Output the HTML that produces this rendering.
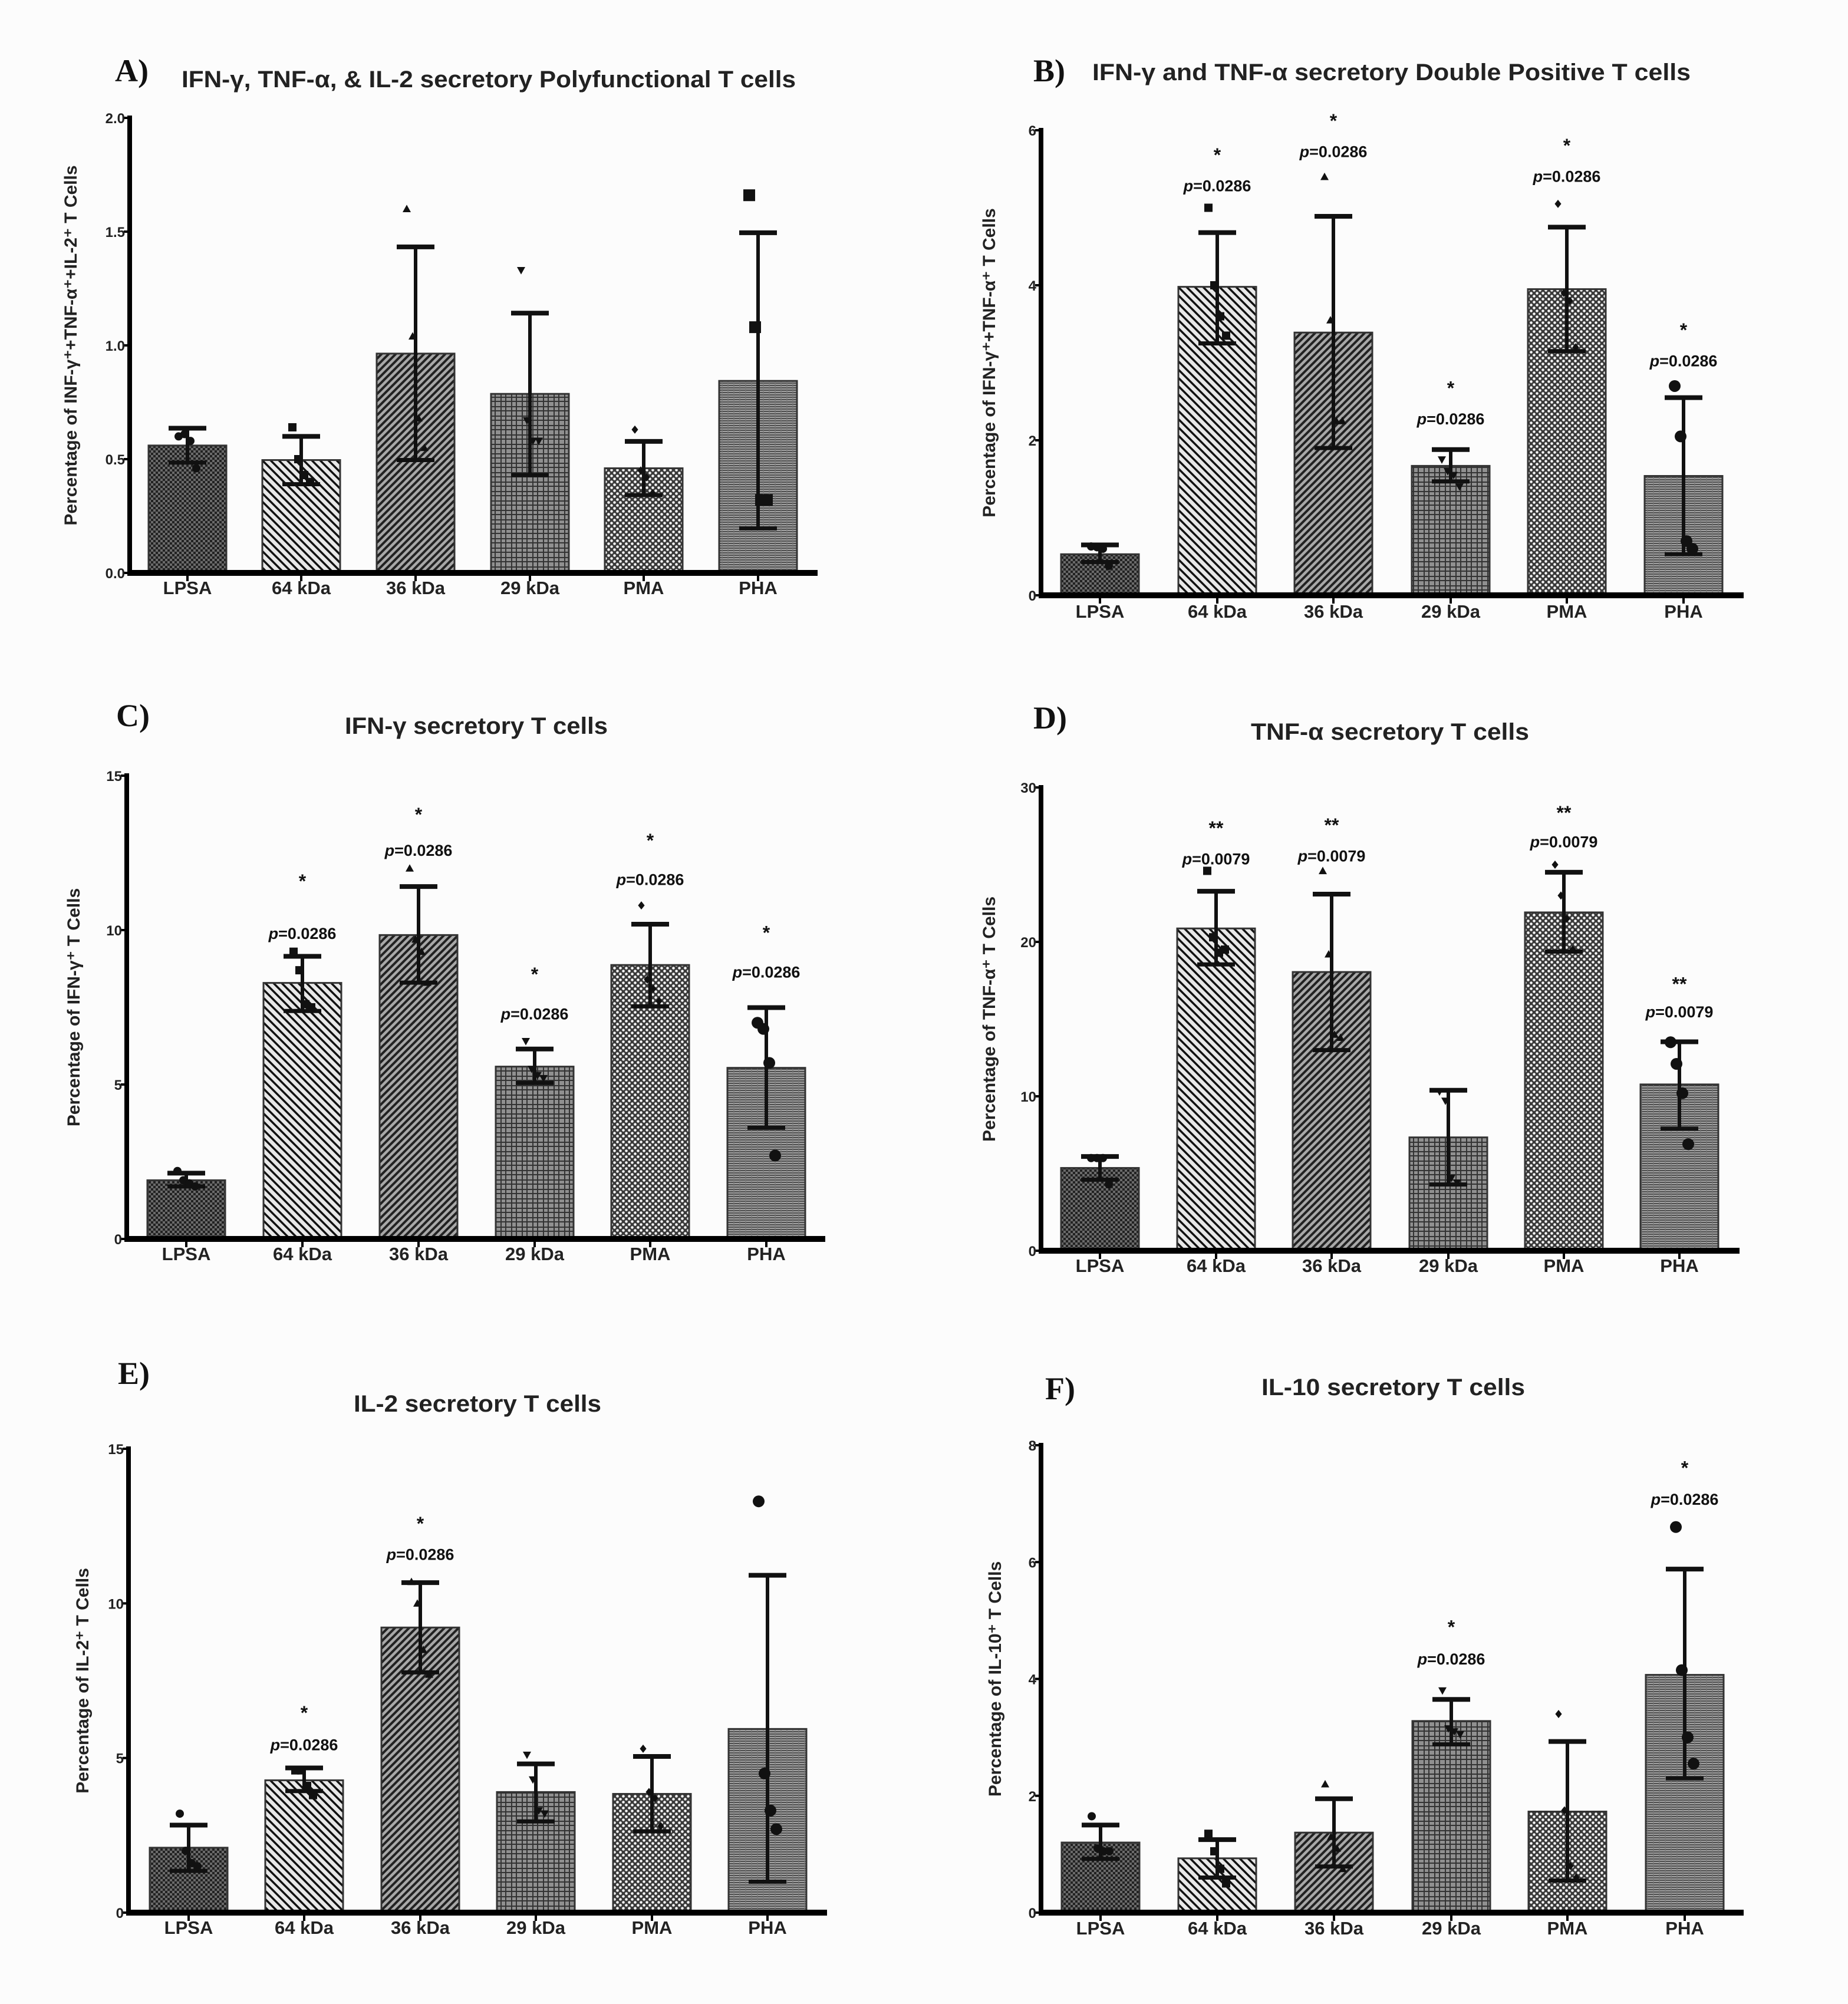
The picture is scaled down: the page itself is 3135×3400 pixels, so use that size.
<!DOCTYPE html>
<html><head><meta charset="utf-8"><style>
html,body{margin:0;padding:0;background:#fcfcfc}
svg{display:block;font-family:"Liberation Sans",Arial,sans-serif}
</style></head><body>
<svg id="fig" width="3135" height="3400" viewBox="0 0 3135 3400" xmlns="http://www.w3.org/2000/svg">
<defs>
<pattern id="pLPSA" width="8" height="8" patternUnits="userSpaceOnUse"><rect width="8" height="8" fill="#6a6a6a"/><rect width="4" height="4" fill="#222"/><rect x="4" y="4" width="4" height="4" fill="#222"/></pattern>
<pattern id="p64" width="14" height="14" patternUnits="userSpaceOnUse"><rect width="14" height="14" fill="#e8e8e8"/><path d="M0,0 L14,14 M-7,7 L7,21 M7,-7 L21,7" stroke="#111" stroke-width="3.5"/></pattern>
<pattern id="p36" width="12" height="12" patternUnits="userSpaceOnUse"><rect width="12" height="12" fill="#a8a8a8"/><path d="M0,12 L12,0 M-6,6 L6,-6 M6,18 L18,6" stroke="#222" stroke-width="4"/></pattern>
<pattern id="p29" width="18" height="16" patternUnits="userSpaceOnUse"><rect width="18" height="16" fill="#909090"/><path d="M0,2 H18 M0,9 H18 M4,0 V16 M12,0 V16" stroke="#333" stroke-width="2"/></pattern>
<pattern id="pPMA" width="10" height="10" patternUnits="userSpaceOnUse"><rect width="10" height="10" fill="#3a3a3a"/><circle cx="2.5" cy="2.5" r="2.3" fill="#f4f4f4"/><circle cx="7.5" cy="7.5" r="2.3" fill="#f4f4f4"/></pattern>
<pattern id="pPHA" width="10" height="8" patternUnits="userSpaceOnUse"><rect width="10" height="8" fill="#a2a2a2"/><path d="M0,2 H10 M0,6 H10" stroke="#333" stroke-width="1.6"/><path d="M5,0 V8" stroke="#777" stroke-width="1.2"/></pattern>
</defs>
</svg>
<script>
const categories = ["LPSA","64 kDa","36 kDa","29 kDa","PMA","PHA"];
// Panel A
const aMeans = [0.56,0.496,0.964,0.787,0.46,0.844];
const aErrHi = [0.636,0.60,1.433,1.142,0.578,1.495];
const aErrLo = [0.485,0.39,0.496,0.43,0.342,0.196];
const aPoints = [[0.60,0.61,0.58,0.46],[0.64,0.50,0.43,0.40],[1.60,1.04,0.68,0.55],[1.33,0.67,0.58,0.58],[0.63,0.45,0.42,0.35],[1.66,1.08,0.32,0.32]];
const aTicks = ["0.0","0.5","1.0","1.5","2.0"];
const aStars = [null,null,null,null,null,null];
const aPvals = [null,null,null,null,null,null];
// Panel B
const bMeans = [0.53,3.98,3.39,1.67,3.95,1.54];
const bErrHi = [0.65,4.68,4.89,1.88,4.75,2.55];
const bErrLo = [0.43,3.25,1.90,1.47,3.15,0.53];
const bPoints = [[0.63,0.62,0.60,0.38],[5.0,4.0,3.6,3.35],[5.4,3.55,2.25,2.25],[1.75,1.6,1.55,1.4],[5.05,3.9,3.8,3.2],[2.7,2.05,0.7,0.6]];
const bTicks = ["0","2","4","6"];
const bStars = [null,"*","*","*","*","*"];
const bPvals = [null,"0.0286","0.0286","0.0286","0.0286","0.0286"];
const bStarY = [null,5.69,6.13,2.68,5.81,3.43];
const bPY = [null,5.29,5.73,2.28,5.41,3.03];
// Panel C
const cMeans = [1.9,8.29,9.84,5.58,8.87,5.54];
const cErrHi = [2.13,9.15,11.41,6.15,10.19,7.49];
const cErrLo = [1.7,7.38,8.3,5.05,7.53,3.6];
const cPoints = [[2.2,1.9,1.8,1.7],[9.3,8.7,7.6,7.5],[12.0,9.7,9.3,8.3],[6.4,5.5,5.3,5.2],[10.8,8.4,8.1,7.7],[7.0,6.8,5.7,2.7]];
const cTicks = ["0","5","10","15"];
const cStars = [null,"*","*","*","*","*"];
const cPvals = [null,"0.0286","0.0286","0.0286","0.0286","0.0286"];
const cStarY = [null,11.6,13.76,8.59,12.92,9.93];
const cPY = [null,9.9,12.6,7.3,11.65,8.65];
// Panel D
const dMeans = [5.36,20.87,18.05,7.34,21.91,10.77];
const dErrHi = [6.1,23.28,23.09,10.39,24.51,13.53];
const dErrLo = [4.6,18.54,12.99,4.29,19.37,7.9];
const dPoints = [[6.0,6.0,6.0,4.3],[24.6,20.3,19.3,19.5],[24.6,19.2,14.0,13.8],[10.3,9.7,4.7,4.4],[25.0,23.0,21.5,19.5],[13.5,12.1,10.2,6.9]];
const dTicks = ["0","10","20","30"];
const dStars = [null,"**","**",null,"**","**"];
const dPvals = [null,"0.0079","0.0079",null,"0.0079","0.0079"];
const dStarY = [null,27.4,27.6,null,28.4,17.3];
const dPY = [null,25.4,25.6,null,26.5,15.5];
// Panel E
const eMeans = [2.1,4.28,9.22,3.9,3.84,5.94];
const eErrHi = [2.83,4.68,10.67,4.81,5.05,10.91];
const eErrLo = [1.35,3.93,7.77,2.95,2.63,1.0];
const ePoints = [[3.2,2.0,1.6,1.5],[4.6,4.6,4.1,3.8],[10.7,10.0,8.5,7.7],[5.1,4.3,3.3,3.2],[5.3,3.9,3.7,2.8],[13.3,4.5,3.3,2.7]];
const eTicks = ["0","5","10","15"];
const eStars = [null,"*","*",null,null,null];
const ePvals = [null,"0.0286","0.0286",null,null,null];
const eStarY = [null,6.48,12.6,null,null,null];
const ePY = [null,5.44,11.6,null,null,null];
// Panel F
const fMeans = [1.2,0.93,1.37,3.28,1.73,4.07];
const fErrHi = [1.5,1.25,1.95,3.65,2.93,5.88];
const fErrLo = [0.92,0.6,0.79,2.88,0.55,2.3];
const fPoints = [[1.65,1.1,1.05,1.05],[1.35,1.05,0.75,0.5],[2.2,1.3,1.1,0.75],[3.8,3.15,3.1,3.05],[3.4,1.75,0.8,0.6],[6.6,4.15,3.0,2.55]];
const fTicks = ["0","2","4","6","8"];
const fStars = [null,null,null,"*",null,"*"];
const fPvals = [null,null,null,"0.0286",null,"0.0286"];
const fStarY = [null,null,null,4.9,null,7.62];
const fPY = [null,null,null,4.35,null,7.08];

const NS="http://www.w3.org/2000/svg";
const svg=document.getElementById('fig');
function mk(tag,attrs,parent){const e=document.createElementNS(NS,tag);for(const k in attrs)e.setAttribute(k,attrs[k]);(parent||svg).appendChild(e);return e;}
const fills=["url(#pLPSA)","url(#p64)","url(#p36)","url(#p29)","url(#pPMA)","url(#pPHA)"];
const markers=["circle","square","up","down","diamond","circle"];

const panels=[
 {id:"a",letter:"A)",lx:195,ly:138,title:"IFN-γ, TNF-α, & IL-2 secretory Polyfunctional T cells",tx:308,ty:148,tw:1042,
  ytitle:"Percentage of INF-γ⁺+TNF-α⁺+IL-2⁺ T Cells",ytx:130,yax:220,xend:1387,y0:972,ytop:200,max:2.0,
  centers:[318,511,705,899,1092,1286],means:aMeans,hi:aErrHi,lo:aErrLo,pts:aPoints,ticks:aTicks,stars:aStars,pv:aPvals,sy:[],py:[],lab:1008,mk:["circle","square","up","down","diamond","square"]},
 {id:"b",letter:"B)",lx:1753,ly:138,title:"IFN-γ and TNF-α  secretory Double Positive T cells",tx:1853,ty:136,tw:1015,
  ytitle:"Percentage of IFN-γ⁺+TNF-α⁺ T Cells",ytx:1688,yax:1766,xend:2958,y0:1010,ytop:221,max:6,
  centers:[1866,2065,2262,2461,2658,2856],means:bMeans,hi:bErrHi,lo:bErrLo,pts:bPoints,ticks:bTicks,stars:bStars,pv:bPvals,sy:bStarY,py:bPY,lab:1048},
 {id:"c",letter:"C)",lx:197,ly:1232,title:"IFN-γ secretory T cells",tx:585,ty:1245,tw:446,
  ytitle:"Percentage of IFN-γ⁺ T Cells",ytx:135,yax:215,xend:1400,y0:2102,ytop:1316,max:15,
  centers:[316,513,710,907,1103,1300],means:cMeans,hi:cErrHi,lo:cErrLo,pts:cPoints,ticks:cTicks,stars:cStars,pv:cPvals,sy:cStarY,py:cPY,lab:2138},
 {id:"d",letter:"D)",lx:1753,ly:1236,title:"TNF-α secretory T cells",tx:2122,ty:1255,tw:472,
  ytitle:"Percentage of TNF-α⁺ T Cells",ytx:1688,yax:1766,xend:2951,y0:2122,ytop:1336,max:30,
  centers:[1866,2063,2259,2457,2653,2849],means:dMeans,hi:dErrHi,lo:dErrLo,pts:dPoints,ticks:dTicks,stars:dStars,pv:dPvals,sy:dStarY,py:dPY,lab:2158},
 {id:"e",letter:"E)",lx:200,ly:2348,title:"IL-2 secretory T cells",tx:600,ty:2395,tw:420,
  ytitle:"Percentage of IL-2⁺ T Cells",ytx:150,yax:218,xend:1403,y0:3245,ytop:2458,max:15,
  centers:[320,516,713,909,1106,1302],means:eMeans,hi:eErrHi,lo:eErrLo,pts:ePoints,ticks:eTicks,stars:eStars,pv:ePvals,sy:eStarY,py:ePY,lab:3281},
 {id:"f",letter:"F)",lx:1773,ly:2374,title:"IL-10 secretory T cells",tx:2140,ty:2367,tw:447,
  ytitle:"Percentage of IL-10⁺ T Cells",ytx:1698,yax:1766,xend:2958,y0:3245,ytop:2452,max:8,
  centers:[1867,2065,2263,2462,2659,2858],means:fMeans,hi:fErrHi,lo:fErrLo,pts:fPoints,ticks:fTicks,stars:fStars,pv:fPvals,sy:fStarY,py:fPY,lab:3282}
];

function drawMarker(g,type,x,y,s){
  let e;
  if(type==="circle"){e=mk('circle',{cx:x,cy:y,r:s},g);}
  else if(type==="square"){e=mk('rect',{x:x-s,y:y-s,width:2*s,height:2*s},g);}
  else if(type==="up"){e=mk('polygon',{points:`${x},${y-s} ${x-s},${y+s*0.8} ${x+s},${y+s*0.8}`},g);}
  else if(type==="down"){e=mk('polygon',{points:`${x},${y+s} ${x-s},${y-s*0.8} ${x+s},${y-s*0.8}`},g);}
  else {e=mk('polygon',{points:`${x},${y-s} ${x-s*0.8},${y} ${x},${y+s} ${x+s*0.8},${y}`},g);}
  e.setAttribute('fill','#111');
  
  
}

panels.forEach(p=>{
  const g=mk('g',{});
  
  
  const ys=v=>p.y0-(v/p.max)*(p.y0-p.ytop);
  const bw=132;
  const L=mk('text',{x:p.lx,y:p.ly,'font-family':'"Liberation Serif",serif','font-weight':'bold','font-size':54,fill:'#111'},g);
  L.textContent=p.letter;
  
  
  const T=mk('text',{x:p.tx,y:p.ty,'font-weight':'bold','font-size':40,fill:'#222',textLength:p.tw,lengthAdjust:'spacingAndGlyphs'},g);
  T.textContent=p.title;
  
  
  const ymid=(p.y0+p.ytop)/2;
  const YT=mk('text',{x:p.ytx,y:ymid,'font-weight':'bold','font-size':30,fill:'#222','text-anchor':'middle',transform:`rotate(-90 ${p.ytx} ${ymid})`},g);
  YT.textContent=p.ytitle;
  
  
  p.means.forEach((m,i)=>{
    const cx=p.centers[i];
    const r=mk('rect',{x:cx-bw/2,y:ys(m),width:bw,height:p.y0-ys(m),fill:fills[i],stroke:'#333','stroke-width':3},g);
    
    
  });
  p.means.forEach((m,i)=>{
    const cx=p.centers[i];
    const eg=mk('g',{stroke:'#111','stroke-width':6},g);
    
    
    mk('line',{x1:cx,x2:cx,y1:ys(p.hi[i]),y2:ys(p.lo[i])},eg);
    mk('line',{x1:cx-32,x2:cx+32,y1:ys(p.hi[i]),y2:ys(p.hi[i]),'stroke-width':8},eg);
    mk('line',{x1:cx-32,x2:cx+32,y1:ys(p.lo[i]),y2:ys(p.lo[i]),'stroke-width':7},eg);
  });
  const mks=p.mk||markers;
  p.pts.forEach((arr,i)=>{
    const n=arr.length;
    arr.forEach((v,j)=>{
      const off=(j-(n-1)/2)*10;
      drawMarker(g,mks[i],p.centers[i]+off,ys(v),i===5?10:7);
    });
  });
  p.stars.forEach((s,i)=>{
    if(!s)return;
    const cx=p.centers[i];
    const st=mk('text',{x:cx,y:ys(p.sy[i])+12,'font-weight':'bold','font-size':32,'text-anchor':'middle',fill:'#111'},g);
    st.textContent=s;
    
    
    const pt=mk('text',{x:cx,y:ys(p.py[i])+10,'font-weight':'bold','font-size':27,'text-anchor':'middle',fill:'#111'},g);
    const it=mk('tspan',{'font-style':'italic'},pt); it.textContent='p';
    const rest=mk('tspan',{},pt); rest.textContent='='+p.pv[i];
    
    
  });
  const ya=mk('line',{x1:p.yax,x2:p.yax,y1:p.ytop-4,y2:p.y0+5,stroke:'#000','stroke-width':8},g);
  
  
  const xa=mk('line',{x1:p.yax-4,x2:p.xend,y1:p.y0,y2:p.y0,stroke:'#000','stroke-width':10},g);
  
  
  p.ticks.forEach((t,i)=>{
    const v=i*p.max/(p.ticks.length-1);
    const y=ys(v);
    mk('line',{x1:p.yax-10,x2:p.yax,y1:y,y2:y,stroke:'#000','stroke-width':4},g);
    const tl=mk('text',{x:p.yax-8,y:y+9,'font-weight':'bold','font-size':24,'text-anchor':'end',fill:'#222'},g);
    tl.textContent=t;
    
    
  });
  categories.forEach((c,i)=>{
    const cx=p.centers[i];
    mk('line',{x1:cx,x2:cx,y1:p.y0,y2:p.y0+14,stroke:'#000','stroke-width':4},g);
    const xl=mk('text',{x:cx,y:p.lab,'font-weight':'bold','font-size':31,'text-anchor':'middle',fill:'#222'},g);
    xl.textContent=c;
    
    
  });
});
</script>
</body></html>
